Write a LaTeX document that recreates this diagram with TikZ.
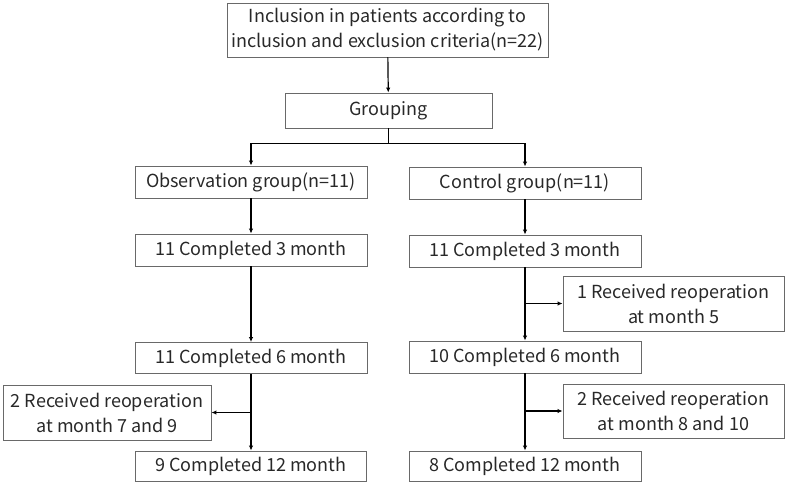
\documentclass[tikz,border=0pt]{standalone}
\usepackage{fontspec}
\setmainfont{Noto Sans CJK SC}
\usetikzlibrary{arrows.meta}

\definecolor{boxgray}{RGB}{105,105,105}
\definecolor{txtgray}{RGB}{40,40,40}

\begin{document}
\begin{tikzpicture}[x=1pt,y=-1pt,
  box/.style={draw=boxgray,line width=0.9pt,text=txtgray,inner sep=0pt,
    align=center,font=\fontsize{18}{25}\selectfont},
  link/.style={line width=1.2pt,-{Latex[length=5pt,width=4.5pt]}}]
\useasboundingbox (0,0) rectangle (787,484);

% top of the chart
\node[box,minimum width=321pt,minimum height=54pt] (incl) at (387.5,30)
  {Inclusion in patients according to\\inclusion and exclusion criteria(n=22)};
\node[box,minimum width=207pt,minimum height=35pt] (grp) at (388.5,110.5) {Grouping};

% two groups
\node[box,minimum width=232pt,minimum height=32pt] (obs) at (251,182) {Observation group(n=11)};
\node[box,minimum width=232pt,minimum height=32pt] (ctrl) at (525,183) {Control group(n=11)};

\node[box,minimum width=232pt,minimum height=32pt] (obsA) at (251,250) {11 Completed 3 month};
\node[box,minimum width=232pt,minimum height=32pt] (ctrlA) at (525,251) {11 Completed 3 month};

\node[box,minimum width=221pt,minimum height=55pt] (ctrlR1) at (673.5,303.5)
  {1 Received reoperation\\at month 5};

\node[box,minimum width=232pt,minimum height=31pt] (obsB) at (251,358) {11 Completed 6 month};
\node[box,minimum width=232pt,minimum height=32pt] (ctrlB) at (525,357) {10 Completed 6 month};

\node[box,minimum width=208pt,minimum height=55pt] (obsR) at (107,412.5)
  {2 Received reoperation\\at month 7 and 9};
\node[box,minimum width=221pt,minimum height=54pt] (ctrlR2) at (673.5,411)
  {2 Received reoperation\\at month 8 and 10};

\node[box,minimum width=231pt,minimum height=30pt] (obsC) at (251,466) {9 Completed 12 month};
\node[box,minimum width=232pt,minimum height=30pt] (ctrlC) at (525,466) {8 Completed 12 month};

% connectors
\draw[link] (incl) -- (grp);
\draw[line width=1.2pt] (grp.south) -- ++(0,15) coordinate (split);
\draw[link] (split) -| (obs.north);
\draw[link] (split) -| (ctrl.north);

\draw[link] (obs) -- (obsA);
\draw[link] (obsA) -- (obsB);
\draw[link] (obsB) -- (obsC);
\draw[link] (obsB.south |- obsR.east) -- (obsR.east);

\draw[link] (ctrl) -- (ctrlA);
\draw[link] (ctrlA) -- (ctrlB);
\draw[link] (ctrlB) -- (ctrlC);
\draw[link] (ctrlA.south |- ctrlR1.west) -- (ctrlR1.west);
\draw[link] (ctrlB.south |- ctrlR2.west) -- (ctrlR2.west);
\end{tikzpicture}
\end{document}
